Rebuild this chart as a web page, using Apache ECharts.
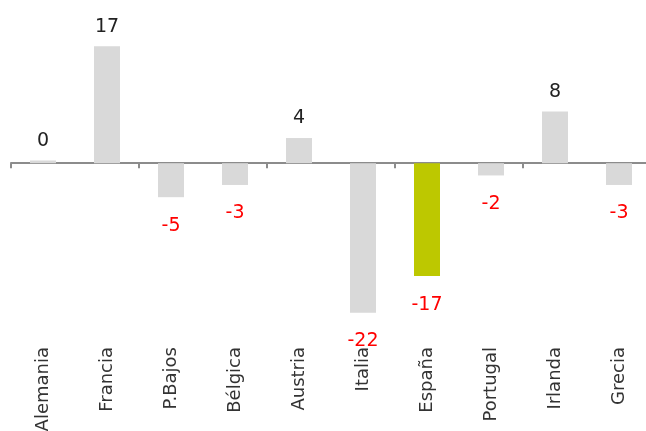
<!DOCTYPE html>
<html>
<head>
<meta charset="utf-8">
<script src="https://cdn.jsdelivr.net/npm/echarts@6/dist/echarts.min.js"></script>
<style>
  html, body { margin: 0; padding: 0; background: #fff; }
  #main { width: 646px; height: 431px; }
</style>
</head>
<body>
<div id="main"></div>
<script>
// paises y valores
var paises = ['Alemania', 'Francia', 'P.Bajos', 'Bélgica', 'Austria', 'Italia', 'España', 'Portugal', 'Irlanda', 'Grecia'];
var valores = [0.4, 17.2, -5, -3.2, 3.7, -22, -16.6, -1.8, 7.6, -3.2];
var destacado = 'España';

var myChart = echarts.init(document.getElementById('main'));

var datos = valores.map(function (v, i) {
    var neg = v < 0;
    return {
        value: v,
        itemStyle: { color: paises[i] === destacado ? '#bdc800' : '#d9d9d9' },
        label: {
            position: neg ? 'bottom' : 'top',
            distance: neg ? 19 : 10,
            color: neg ? '#ff0000' : '#222222'
        }
    };
});

var option = {
    animation: false,
    grid: { left: 11, top: 0, width: 640, bottom: 91, outerBoundsMode: 'none' },
    xAxis: [
        {
            type: 'category',
            data: paises,
            axisLine: { onZero: true, lineStyle: { color: '#8c8c8c', width: 2 } },
            axisTick: { show: true, length: 5, lineStyle: { color: '#8c8c8c', width: 2 } },
            axisLabel: { show: false }
        },
        {
            type: 'category',
            data: paises,
            position: 'bottom',
            axisLine: { show: false, onZero: false },
            axisTick: { show: false },
            axisLabel: {
                rotate: 90,
                margin: 7,
                color: '#333333',
                fontSize: 18,
                fontFamily: 'DejaVu Sans'
            }
        }
    ],
    yAxis: {
        type: 'value',
        min: -26,
        max: 24,
        show: false,
        splitLine: { show: false }
    },
    series: [
        {
            type: 'bar',
            xAxisIndex: 0,
            barWidth: 26,
            data: datos,
            label: {
                show: true,
                fontSize: 19,
                fontFamily: 'DejaVu Sans',
                formatter: function (p) { return Math.round(p.value); }
            }
        }
    ]
};

myChart.setOption(option);
</script>
</body>
</html>
